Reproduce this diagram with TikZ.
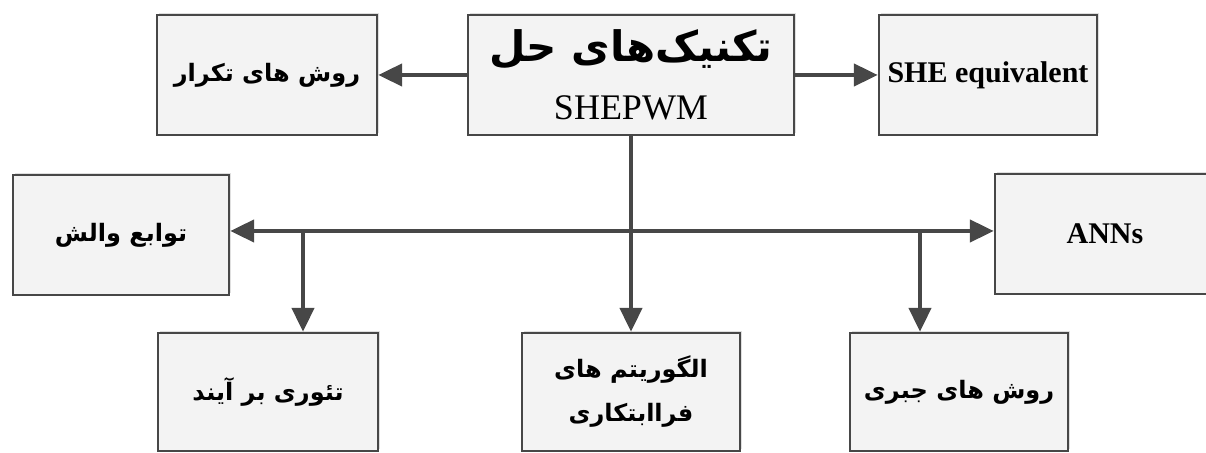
\documentclass[tikz,border=0pt]{standalone}
\usepackage{fontspec}
\setmainfont{Liberation Serif}
\newfontfamily\fafont[Script=Arabic]{DejaVu Sans}
\TeXXeTstate=1
\usetikzlibrary{arrows.meta,shadows}
\newcommand{\fatext}[1]{{\fafont\bfseries\beginR #1\endR}}
\definecolor{linegray}{HTML}{474747}
\definecolor{boxfill}{HTML}{F3F3F3}

\begin{document}
\begin{tikzpicture}[x=0.5pt,y=-0.5pt]
	\tikzstyle{box} = [draw=linegray, line width=1.2pt, fill=boxfill, minimum width=109pt, minimum height=60pt, inner sep=2pt, align=center, font=\fontsize{12}{22}\selectfont, drop shadow={opacity=0.25, shadow xshift=1pt, shadow yshift=1pt}]
	\tikzstyle{arr} = [draw=linegray, line width=2.2pt, -{Triangle[length=12pt,width=11pt]}]

	\useasboundingbox (0,0) rectangle (1206,453);

	% top row
	\node[box, minimum width=110pt] (iter) at (267,75) {\fatext{روش های تکرار}};
	\node[box, minimum width=163pt] (main) at (631,75) {{\fontsize{21}{24}\selectfont\fatext{تکنیک‌های حل}}\\[7pt]{\fontsize{18}{20}\selectfont SHEPWM}};
	\node[box] (sheq) at (988,75) {\fontsize{15}{18}\selectfont\bfseries SHE equivalent};

	% middle row
	\node[box, minimum width=108pt] (walsh) at (121,235) {\fatext{توابع والش}};
	\node[box, minimum width=110pt] (anns) at (1105,234) {\fontsize{15}{18}\selectfont\bfseries ANNs};

	% bottom row
	\node[box, minimum width=110pt, minimum height=59pt] (superp) at (268,392) {\fatext{تئوری بر آیند}};
	\node[box, minimum height=59pt] (meta) at (631,392) {\fatext{الگوریتم های}\\\fatext{فراابتکاری}};
	\node[box, minimum height=59pt] (algeb) at (959,392) {\fatext{روش های جبری}};

	% connectors
	\coordinate (bus) at (631,231);
	\coordinate (br1) at (303,231);
	\coordinate (br2) at (920,231);

	\draw[arr] (main.west) -- (iter.east);
	\draw[arr] (main.east) -- (sheq.west);
	\draw[arr] (main.south) -- (meta.north);
	\draw[arr] (bus) -- (bus -| walsh.east);
	\draw[arr] (bus) -- (bus -| anns.west);
	\draw[arr] (br1) -- (br1 |- superp.north);
	\draw[arr] (br2) -- (br2 |- algeb.north);

\end{tikzpicture}
\end{document}
